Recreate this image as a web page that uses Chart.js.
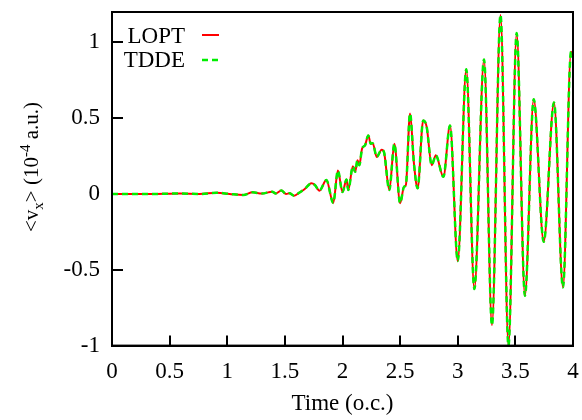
<!DOCTYPE html>
<html>
<head>
<meta charset="utf-8">
<script src="https://cdn.jsdelivr.net/npm/chart.js@4.4.1/dist/chart.umd.min.js"></script>
<style>
  html, body { margin: 0; padding: 0; background: #fff; }
</style>
</head>
<body>
<canvas id="grafico" width="582" height="420"></canvas>
<script>
// tiempo en ciclos ópticos (o.c.)
const tiempos = [0, 0.33, 0.59, 0.76, 0.91, 1.02, 1.14, 1.22, 1.30, 1.39, 1.42, 1.47, 1.51, 1.54, 1.58,
  1.63, 1.67, 1.73, 1.76, 1.80, 1.86, 1.92, 1.96, 2.00, 2.035, 2.05, 2.09, 2.11, 2.13, 2.146, 2.17,
  2.195, 2.224, 2.245, 2.262, 2.297, 2.34, 2.36, 2.406, 2.45, 2.50, 2.534, 2.55, 2.586, 2.62, 2.652,
  2.70, 2.73, 2.774, 2.81, 2.875, 2.933, 3.0, 3.074, 3.144, 3.228, 3.297, 3.371, 3.44, 3.511, 3.583,
  3.659, 3.746, 3.835, 3.913, 3.983, 4.0];

// <v_x> en 10^-4 a.u.
const valoresLOPT = [0, 0, 0.003, 0, 0.008, 0, -0.007, 0.011, 0.003, 0.015, 0.003, 0.023, 0, 0.005, -0.011,
  0.011, 0.031, 0.070, 0.059, 0.022, 0.092, -0.059, 0.154, 0.013, 0.095, 0.026, 0.183, 0.146, 0.222, 0.19, 0.30,
  0.32, 0.386, 0.331, 0.335, 0.244, 0.292, 0.276, 0.026, 0.331, -0.061, 0.048, 0.059, 0.531, 0.20, 0.037,
  0.484, 0.444, 0.19, 0.255, 0.113, 0.451, -0.442, 0.822, -0.627, 0.887, -0.866, 1.181, -1.0, 1.061, -0.671,
  0.625, -0.315, 0.603, -0.616, 0.938, 0.90];

const valoresTDDE = [0, 0, 0.003, 0, 0.008, 0, -0.007, 0.011, 0.003, 0.015, 0.003, 0.023, 0, 0.005, -0.011,
  0.011, 0.031, 0.070, 0.059, 0.022, 0.092, -0.059, 0.154, 0.013, 0.095, 0.026, 0.183, 0.146, 0.222, 0.19, 0.30,
  0.32, 0.386, 0.331, 0.335, 0.244, 0.292, 0.276, 0.026, 0.331, -0.061, 0.048, 0.059, 0.531, 0.20, 0.037,
  0.484, 0.444, 0.19, 0.255, 0.113, 0.451, -0.442, 0.822, -0.627, 0.887, -0.866, 1.181, -1.0, 1.061, -0.671,
  0.625, -0.315, 0.603, -0.616, 0.938, 0.90];

const ticksX = [0, 0.5, 1, 1.5, 2, 2.5, 3, 3.5, 4];
const ticksY = [-1, -0.5, 0, 0.5, 1];

const fuente = '"Liberation Serif", "Times New Roman", serif';

function puntos(xs, ys) {
  return xs.map((x, i) => ({ x: x, y: ys[i] }));
}

// marco, leyenda y títulos de ejes
const decoracion = {
  id: 'decoracion',
  afterDraw(chart) {
    const g = chart.ctx;
    const a = chart.chartArea;
    g.save();
    g.setLineDash([]);
    g.strokeStyle = '#000';
    g.lineWidth = 2;
    g.strokeRect(a.left, a.top, a.right - a.left, a.bottom - a.top);

    // leyenda estilo gnuplot
    g.fillStyle = '#000';
    g.font = '23px ' + fuente;
    g.textAlign = 'right';
    g.textBaseline = 'middle';
    g.fillText('LOPT', 185, 37);
    g.fillText('TDDE', 185, 61);
    g.lineWidth = 2;
    g.strokeStyle = '#ff0000';
    g.beginPath();
    g.moveTo(202, 35); g.lineTo(219, 35);
    g.stroke();
    g.lineWidth = 2.5;
    g.strokeStyle = '#00ee00';
    g.setLineDash([6, 4]);
    g.beginPath();
    g.moveTo(202, 60); g.lineTo(219, 60);
    g.stroke();
    g.setLineDash([]);

    // título eje x
    g.textAlign = 'center';
    g.fillText('Time (o.c.)', (a.left + a.right) / 2, 404);

    // título eje y con subíndice y superíndice
    g.translate(31, 167);
    g.rotate(-Math.PI / 2);
    const grande = '21px ' + fuente, chica = '15px ' + fuente;
    const partes = [
      { t: '<v', f: grande, dy: 0 },
      { t: 'x', f: chica, dy: 5 },
      { t: '> (10', f: grande, dy: 0 },
      { t: '-4', f: chica, dy: -8 },
      { t: ' a.u.)', f: grande, dy: 0 }
    ];
    let total = 0;
    partes.forEach(p => { g.font = p.f; total += g.measureText(p.t).width; });
    let x = -total / 2;
    g.textAlign = 'left';
    g.textBaseline = 'alphabetic';
    partes.forEach(p => {
      g.font = p.f;
      g.fillText(p.t, x, 7 + p.dy);
      x += g.measureText(p.t).width;
    });
    g.restore();
  }
};

// ejes espejo: solo aportan el borde superior y derecho del marco
const ejeEspejo = (pos) => ({
  type: 'linear',
  position: pos,
  min: 0,
  max: 1,
  grid: { display: false },
  border: { display: true, color: '#000', width: 2 },
  ticks: { display: false },
  afterFit: s => {
    if (pos === 'top') s.height = 0; else s.width = 0;
    s.paddingLeft = 0; s.paddingRight = 0; s.paddingTop = 0; s.paddingBottom = 0;
  }
});

new Chart(document.getElementById('grafico'), {
  type: 'line',
  data: {
    datasets: [{
      label: 'LOPT',
      data: puntos(tiempos, valoresLOPT),
      borderColor: '#ff0000',
      borderWidth: 2,
      pointRadius: 0,
      cubicInterpolationMode: 'monotone',
      fill: false,
      order: 1
    }, {
      label: 'TDDE',
      data: puntos(tiempos, valoresTDDE),
      borderColor: '#00ee00',
      borderWidth: 2.5,
      borderDash: [6, 4],
      pointRadius: 0,
      cubicInterpolationMode: 'monotone',
      fill: false,
      order: 0
    }]
  },
  options: {
    responsive: false,
    animation: false,
    layout: { padding: { left: 0, right: 9, top: 12, bottom: 0 } },
    plugins: {
      legend: { display: false },
      tooltip: { enabled: false }
    },
    scales: {
      x: {
        type: 'linear',
        position: 'bottom',
        min: 0,
        max: 4,
        grid: { display: true, drawOnChartArea: false, drawTicks: true, tickLength: -10, color: '#000', lineWidth: 2 },
        border: { display: true, color: '#000', width: 2 },
        afterBuildTicks: s => { s.ticks = ticksX.map(v => ({ value: v })); },
        afterFit: s => {
          s.height = 74.4;
          s.paddingLeft = 0;
          s.paddingRight = 0;
        },
        ticks: {
          padding: 23,
          maxRotation: 0,
          color: '#000',
          callback: v => String(v),
          font: { family: fuente, size: 23 }
        }
      },
      y: {
        type: 'linear',
        position: 'left',
        min: -1,
        max: 1.2,
        grid: { display: true, drawOnChartArea: false, drawTicks: true, tickLength: -11, color: '#000', lineWidth: 2 },
        border: { display: true, color: '#000', width: 2 },
        afterBuildTicks: s => { s.ticks = ticksY.map(v => ({ value: v })); },
        afterFit: s => {
          s.width = 112;
          s.paddingTop = 0;
          s.paddingBottom = 0;
        },
        ticks: {
          padding: 23,
          color: '#000',
          callback: v => String(v),
          font: { family: fuente, size: 23 }
        }
      },
      xArriba: ejeEspejo('top'),
      yDerecha: ejeEspejo('right')
    }
  },
  plugins: [decoracion]
});
</script>
</body>
</html>
